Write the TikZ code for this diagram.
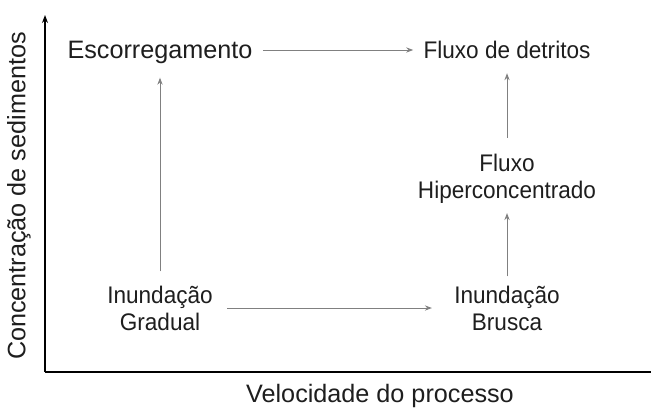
\documentclass[tikz,border=0pt]{standalone}
\usepackage{fontspec}
\setmainfont{Liberation Sans}
\newfontfamily\narrowsans[FakeStretch=0.94]{Liberation Sans}
\usetikzlibrary{arrows.meta}
\definecolor{textgray}{HTML}{1E1E1E}
\definecolor{arrowgray}{HTML}{808080}
\begin{document}
\begin{tikzpicture}[x=0.5pt,y=-0.5pt,
		proc/.style={text=textgray,align=center,inner sep=0pt,font=\narrowsans\fontsize{12}{13.5}\selectfont},
		big/.style={proc,font=\fontsize{12.6}{14}\selectfont},
		flow/.style={draw=arrowgray,line width=0.5pt,-{Stealth[length=3.5pt,width=2.6pt]}},
		axis/.style={draw=black,line width=1.1pt}]
		\useasboundingbox[fill=white] (0,0) rectangle (651,408);
		\node[big] (esc) at (160,52) {Escorregamento};
		\node[proc] (detritos) at (507,50) {Fluxo de detritos};
		\node[proc] (hiper) at (507,179) {Fluxo\\Hiperconcentrado};
		\node[proc] (brusca) at (507,308) {Inunda\c{c}\~ao\\Brusca};
		\node[proc] (gradual) at (160,308) {Inunda\c{c}\~ao\\Gradual};
		\coordinate (origin) at (45,372);
		\coordinate (ytop) at (45,15);
		\coordinate (xend) at (651,372);
		\node[big,rotate=90] (ylabel) at (19,196) {Concentra\c{c}\~ao de sedimentos};
		\node[big] (xlabel) at (380,396) {Velocidade do processo};
		\draw[axis,-{Stealth[length=4pt,width=3pt]}] (origin) -- (ytop);
		\draw[axis] (origin) -- (xend);
		\draw[flow,shorten <=5pt,shorten >=5pt] (esc.east |- detritos) -- (detritos.west);
		\draw[flow,shorten <=7pt,shorten >=11pt] (gradual) -- (brusca);
		\draw[flow,shorten <=7pt,shorten >=7pt] (gradual) -- (esc);
		\draw[flow,shorten <=8pt,shorten >=7pt] (hiper) -- (detritos);
		\draw[flow,shorten <=4.5pt,shorten >=4.5pt] (brusca) -- (hiper);
	\end{tikzpicture}
\end{document}
